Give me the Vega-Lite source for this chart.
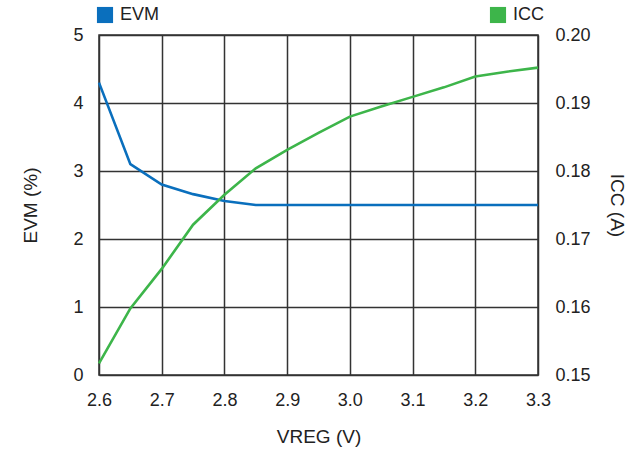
{
  "$schema": "https://vega.github.io/schema/vega-lite/v6.json",
  "autosize": "none",
  "width": 439,
  "height": 340,
  "padding": {"left": 99, "top": 35, "right": 90, "bottom": 77},
  "background": "white",
  "config": {
    "font": "Liberation Sans Narrow, Roboto Condensed, Liberation Sans",
    "view": {"stroke": "#333", "strokeWidth": 1.5},
    "axis": {
      "labelFont": "Liberation Sans Narrow, Liberation Sans",
      "titleFont": "Liberation Sans Narrow, Liberation Sans",
      "labelFontSize": 18,
      "titleFontSize": 19,
      "labelColor": "#222",
      "titleColor": "#222",
      "titleFontWeight": "normal",
      "tickSize": 0,
      "domain": false,
      "labelFlush": false,
      "labelOverlap": false,
      "gridColor": "#333",
      "gridWidth": 1.5,
      "gridOpacity": 1
    },
    "legend": {
      "labelFont": "Liberation Sans Narrow, Liberation Sans",
      "labelFontSize": 18,
      "labelColor": "#222",
      "symbolType": "square",
      "symbolSize": 260,
      "symbolStrokeWidth": 0,
      "symbolOpacity": 1,
      "labelOffset": 6,
      "title": null
    }
  },
  "data": {
    "values": [
      {"V": 2.6, "EVM": 4.3, "ICC": 0.1517},
      {"V": 2.65, "EVM": 3.1, "ICC": 0.1598},
      {"V": 2.7, "EVM": 2.8, "ICC": 0.1656},
      {"V": 2.75, "EVM": 2.66, "ICC": 0.1721},
      {"V": 2.8, "EVM": 2.56, "ICC": 0.1765},
      {"V": 2.85, "EVM": 2.5, "ICC": 0.1804},
      {"V": 2.9, "EVM": 2.5, "ICC": 0.1831},
      {"V": 2.95, "EVM": 2.5, "ICC": 0.1856},
      {"V": 3.0, "EVM": 2.5, "ICC": 0.188},
      {"V": 3.05, "EVM": 2.5, "ICC": 0.1895},
      {"V": 3.1, "EVM": 2.5, "ICC": 0.1909},
      {"V": 3.15, "EVM": 2.5, "ICC": 0.1923},
      {"V": 3.2, "EVM": 2.5, "ICC": 0.1939},
      {"V": 3.25, "EVM": 2.5, "ICC": 0.1946},
      {"V": 3.3, "EVM": 2.5, "ICC": 0.1952}
    ]
  },
  "encoding": {
    "x": {
      "field": "V",
      "type": "quantitative",
      "scale": {"domain": [2.6, 3.3], "nice": false, "zero": false},
      "axis": {
        "values": [2.6, 2.7, 2.8, 2.9, 3.0, 3.1, 3.2, 3.3],
        "format": ".1f",
        "labelPadding": 16,
        "title": "VREG (V)",
        "titlePadding": 18
      }
    }
  },
  "layer": [
    {
      "mark": {"type": "line", "strokeWidth": 2.6, "strokeJoin": "miter"},
      "encoding": {
        "y": {
          "field": "EVM",
          "type": "quantitative",
          "scale": {"domain": [0, 5], "nice": false},
          "axis": {
            "orient": "left",
            "values": [0, 1, 2, 3, 4, 5],
            "labelPadding": 16,
            "title": "EVM (%)",
            "titlePadding": 32
          }
        },
        "color": {
          "datum": "EVM",
          "scale": {"range": ["#0a6fbd"]},
          "legend": {"orient": "none", "legendX": -3, "legendY": -29, "symbolFillColor": "#0a6fbd"}
        }
      }
    },
    {
      "mark": {"type": "line", "strokeWidth": 2.6, "strokeJoin": "miter"},
      "encoding": {
        "y": {
          "field": "ICC",
          "type": "quantitative",
          "scale": {"domain": [0.15, 0.2], "nice": false, "zero": false},
          "axis": {
            "orient": "right",
            "values": [0.15, 0.16, 0.17, 0.18, 0.19, 0.2],
            "format": ".2f",
            "grid": false,
            "labelPadding": 17,
            "title": "ICC (A)",
            "titlePadding": 16
          }
        },
        "color": {
          "datum": "ICC",
          "scale": {"range": ["#3db54a"]},
          "legend": {"orient": "none", "legendX": 390, "legendY": -29, "symbolFillColor": "#3db54a"}
        }
      }
    }
  ],
  "resolve": {"scale": {"y": "independent", "color": "independent"}}
}
